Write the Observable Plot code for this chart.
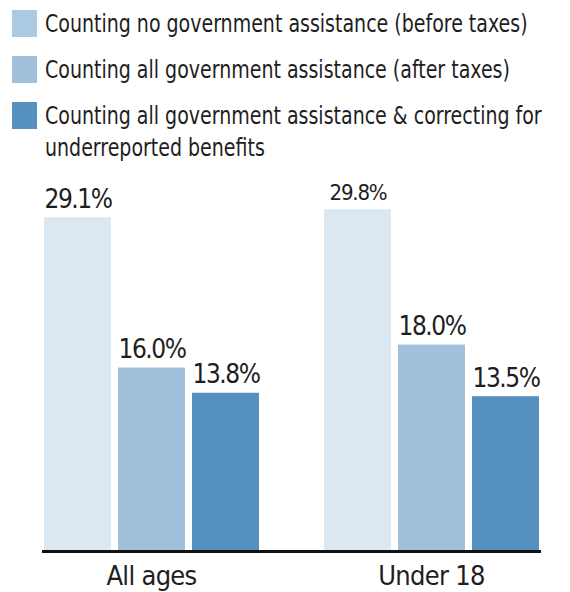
<!DOCTYPE html>
<html>
<head>
<meta charset="utf-8">
<script src="https://cdn.jsdelivr.net/npm/d3@7"></script>
<script src="https://cdn.jsdelivr.net/npm/@observablehq/plot@0.6"></script>
<style>
  html, body { margin: 0; padding: 0; background: #fff; }
  #wrap { width: 570px; font-family: "DejaVu Sans", sans-serif; font-stretch: condensed; color: #1e1e1e; }
  #legend { height: 165px; box-sizing: border-box; padding-top: 8px; }
  .item { display: flex; align-items: flex-start; margin-bottom: 14px; }
  .sw { width: 25px; height: 27px; margin-left: 12px; margin-right: 8px; margin-top: 2px; flex: none; }
  .lab { font-size: 24px; line-height: 32px; white-space: nowrap; transform: scaleX(0.88); transform-origin: 0 0; }
  svg { display: block; font-stretch: condensed; }
  svg .val text, svg text.val { letter-spacing: -1.5px; }
  svg .small text, svg text.small { letter-spacing: -1.2px; }
  svg g[aria-label="fx-axis tick label"] text { letter-spacing: -0.7px; }
</style>
</head>
<body>
<div id="wrap">
  <div id="legend"></div>
  <div id="chart"></div>
</div>
<script>
const groups = ["All ages", "Under 18"];
const seriesNames = [
  "Counting no government assistance (before taxes)",
  "Counting all government assistance (after taxes)",
  "Counting all government assistance & correcting for underreported benefits"
];
const legendLines = [
  ["Counting no government assistance (before taxes)"],
  ["Counting all government assistance (after taxes)"],
  ["Counting all government assistance & correcting for", "underreported benefits"]
];
const allAges = [29.1, 16.0, 13.8];
const under18 = [29.8, 18.0, 13.5];
const barColors = ["#dbe7f1", "#a1c0db", "#5690bf"];
const swatchColors = ["#abc9e1", "#a1c0db", "#5690bf"];

const values = [allAges, under18];
const data = [];
groups.forEach((g, gi) => seriesNames.forEach((s, si) => data.push({group: g, series: s, si, value: values[gi][si]})));
const isSmall = d => d.group === "Under 18" && d.si === 0;

// legend
const legend = document.getElementById("legend");
legendLines.forEach((lines, i) => {
  const it = document.createElement("div");
  it.className = "item";
  const sw = document.createElement("div");
  sw.className = "sw";
  sw.style.background = swatchColors[i];
  const lab = document.createElement("div");
  lab.className = "lab";
  lab.innerHTML = lines.join("<br>");
  it.appendChild(sw); it.appendChild(lab);
  legend.appendChild(it);
});

const chart = Plot.plot({
  width: 570,
  height: 427,
  marginTop: 42,
  marginBottom: 41,
  marginLeft: 12,
  marginRight: 0,
  style: {fontFamily: "'DejaVu Sans', sans-serif", color: "#1e1e1e", background: "#fff"},
  fx: {domain: groups, paddingInner: 0.2286, paddingOuter: 0.1107, label: null},
  x: {domain: seriesNames, paddingInner: 0.1, paddingOuter: 0, axis: null},
  y: {domain: [0, 30], axis: null},
  color: {domain: seriesNames, range: barColors},
  marks: [
    Plot.barY(data, {fx: "group", x: "series", y: "value", fill: "series"}),
    Plot.text(data.filter(d => !isSmall(d)), {
      fx: "group", x: "series", y: "value",
      text: d => d.value.toFixed(1) + "%",
      lineAnchor: "bottom", dy: -10,
      fontSize: 26, className: "val",
      fill: "#1e1e1e"
    }),
    Plot.text(data.filter(isSmall), {
      fx: "group", x: "series", y: "value",
      text: d => d.value.toFixed(1) + "%",
      lineAnchor: "bottom", dy: -10,
      fontSize: 22, className: "small",
      fill: "#1e1e1e"
    }),
    Plot.frame({anchor: "bottom", facet: "super", stroke: "#111", strokeWidth: 3}),
    Plot.axisFx({anchor: "bottom", tickSize: 0, tickPadding: 14, fontSize: 27, label: null})
  ]
});
document.getElementById("chart").appendChild(chart);
</script>
</body>
</html>
